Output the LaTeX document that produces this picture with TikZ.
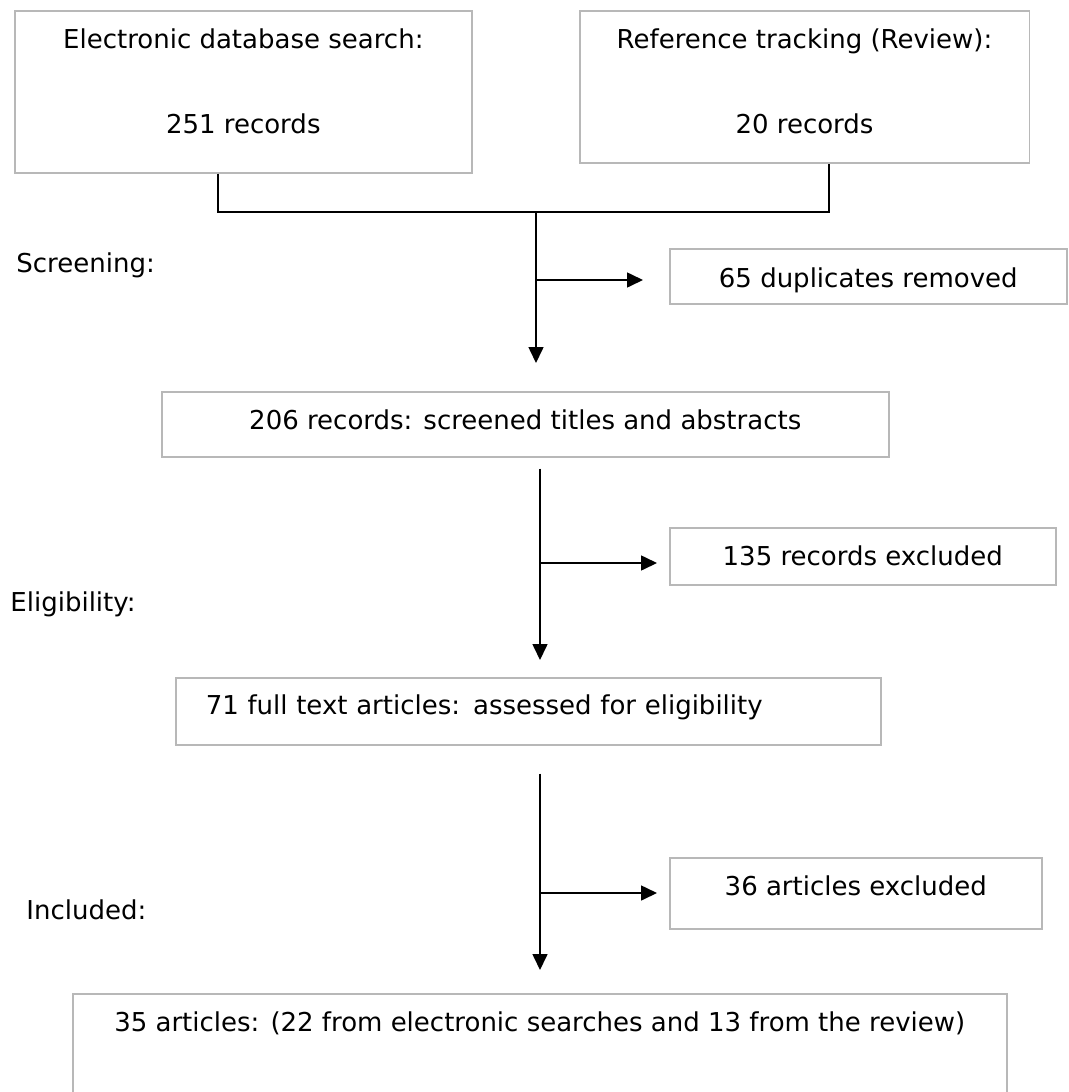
\documentclass[tikz,border=0pt]{standalone}
\usepackage{fontspec}
\setmainfont{DejaVu Sans}
\usetikzlibrary{arrows.meta}
\begin{document}
\begin{tikzpicture}[x=0.5pt,y=-0.5pt,
        box/.style={draw=black!28,line width=0.8pt,anchor=north west,inner sep=0pt,align=center,font=\fontsize{13}{15.6}\selectfont},
        stage/.style={anchor=base west,inner sep=0pt,font=\fontsize{13}{15.6}\selectfont},
        flow/.style={line width=0.8pt},
        arr/.style={flow,-{Triangle[length=8pt,width=7.5pt]}}]
        \useasboundingbox (0,0) rectangle (1069,1092);
        \clip (0,0) rectangle (1069,1092);
        \node[box,minimum width=228.5pt,text height=61.25pt,text depth=19.75pt] (srch) at (14,10) {Electronic database search:\\[26.9pt]251 records};
        \node[box,minimum width=224.75pt,text height=61.25pt,text depth=14.75pt] (rev) at (579,10) {Reference tracking (Review):\\[26.9pt]20 records};
        \node[box,minimum width=198.5pt,text height=19.25pt,text depth=8.25pt] (dup) at (669,248) {65 duplicates removed};
        \node[box,minimum width=363.5pt,text height=18.75pt,text depth=13.75pt] (scr) at (161,391) {206 records: screened titles and abstracts};
        \node[box,minimum width=193pt,text height=18.75pt,text depth=9.75pt] (exc1) at (669,527) {135 records excluded};
        \node[box,align=left,text width=322.5pt,inner xsep=15pt,text height=18.25pt,text depth=15.25pt] (full) at (175,677) {71 full text articles: assessed for eligibility};
        \node[box,minimum width=186pt,text height=18.75pt,text depth=16.75pt] (exc2) at (669,857) {36 articles excluded};
        \node[box,minimum width=467pt,text height=18.75pt,text depth=44.75pt] (incl) at (72,993) {35 articles: (22 from electronic searches and 13 from the review)};
        \node[stage] (scrlab) at (16,272.5) {Screening:};
        \node[stage] (elilab) at (10,611.5) {Eligibility:};
        \node[stage] (inclab) at (26,919.5) {Included:};
        \coordinate (jl) at (218,212);
        \coordinate (jm) at (536,212);
        \coordinate (jr) at (829,212);
        \coordinate (b1) at (536,280);
        \coordinate (b2) at (540,563);
        \coordinate (b3) at (540,893);
        \draw[flow] (srch.south -| jl) -- (jl) -- (jr) -- (rev.south -| jr);
        \draw[arr,shorten >=14pt] (jm) -- (scr.north -| jm);
        \draw[arr,shorten >=13pt] (b1) -- (b1 -| dup.west);
        \draw[arr,shorten <=5.5pt,shorten >=8.5pt] (scr.south -| b2) -- (full.north -| b2);
        \draw[arr,shorten >=6pt] (b2) -- (b2 -| exc1.west);
        \draw[arr,shorten <=14pt,shorten >=11.5pt] (full.south -| b3) -- (incl.north -| b3);
        \draw[arr,shorten >=6pt] (b3) -- (b3 -| exc2.west);
        \end{tikzpicture}
\end{document}
